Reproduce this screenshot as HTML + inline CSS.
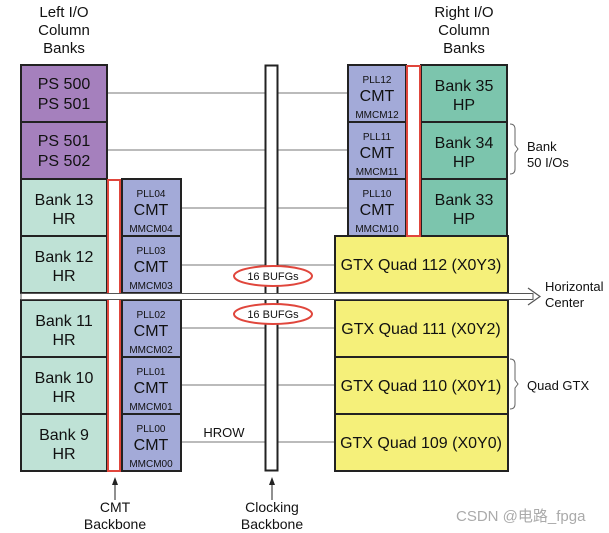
<!DOCTYPE html>
<html><head><meta charset="utf-8"><style>
html,body{margin:0;padding:0;background:#fff}
svg{display:block}
text{font-family:"Liberation Sans","Noto Sans CJK SC",sans-serif;fill:#111}
</style></head><body>
<svg width="609" height="533" viewBox="0 0 609 533" xmlns="http://www.w3.org/2000/svg">
<g font-size="15" text-anchor="middle">
<text x="64" y="17">Left I/O</text><text x="64" y="35">Column</text><text x="64" y="53">Banks</text>
<text x="464" y="17">Right I/O</text><text x="464" y="35">Column</text><text x="464" y="53">Banks</text>
</g>
<g stroke="#777" stroke-width="1">
<line x1="107" y1="93" x2="348" y2="93"/>
<line x1="107" y1="150" x2="348" y2="150"/>
<line x1="181" y1="208" x2="348" y2="208"/>
<line x1="181" y1="265" x2="335" y2="265"/>
<line x1="181" y1="328" x2="335" y2="328"/>
<line x1="181" y1="385" x2="335" y2="385"/>
<line x1="181" y1="442" x2="335" y2="442"/>
</g>
<rect x="265.5" y="65.5" width="12" height="405" fill="#fff" stroke="#222" stroke-width="2"/>
<g stroke="#222" stroke-width="2">
<rect x="21" y="65" width="86" height="57" fill="#a580bd"/>
<rect x="21" y="122" width="86" height="57" fill="#a580bd"/>
<rect x="21" y="179" width="86" height="57" fill="#bfe2d6"/>
<rect x="21" y="236" width="86" height="57" fill="#bfe2d6"/>
<rect x="21" y="300" width="86" height="57" fill="#bfe2d6"/>
<rect x="21" y="357" width="86" height="57" fill="#bfe2d6"/>
<rect x="21" y="414" width="86" height="57" fill="#bfe2d6"/>
<rect x="122" y="179" width="59" height="57" fill="#a3aad8"/>
<rect x="122" y="236" width="59" height="57" fill="#a3aad8"/>
<rect x="122" y="300" width="59" height="57" fill="#a3aad8"/>
<rect x="122" y="357" width="59" height="57" fill="#a3aad8"/>
<rect x="122" y="414" width="59" height="57" fill="#a3aad8"/>
<rect x="348" y="65" width="58" height="57" fill="#a3aad8"/>
<rect x="348" y="122" width="58" height="57" fill="#a3aad8"/>
<rect x="348" y="179" width="58" height="57" fill="#a3aad8"/>
<rect x="421" y="65" width="86" height="57" fill="#7cc5ad"/>
<rect x="421" y="122" width="86" height="57" fill="#7cc5ad"/>
<rect x="421" y="179" width="86" height="57" fill="#7cc5ad"/>
<rect x="335" y="236" width="173" height="57" fill="#f5f07a"/>
<rect x="335" y="300" width="173" height="57" fill="#f5f07a"/>
<rect x="335" y="357" width="173" height="57" fill="#f5f07a"/>
<rect x="335" y="414" width="173" height="57" fill="#f5f07a"/>
</g>
<rect x="108" y="180" width="12" height="291" fill="#fff" stroke="#e0463c" stroke-width="2"/>
<rect x="407" y="66" width="13" height="170" fill="#fff" stroke="#e0463c" stroke-width="2"/>
<rect x="21" y="293.5" width="512" height="6" fill="#fff" stroke="#555" stroke-width="1"/>
<polyline points="528,288 540,296.5 528,305" fill="none" stroke="#555" stroke-width="1.2"/>
<ellipse cx="273" cy="276" rx="39" ry="10" fill="#fff" stroke="#e0463c" stroke-width="2"/>
<ellipse cx="273" cy="314" rx="39" ry="10" fill="#fff" stroke="#e0463c" stroke-width="2"/>
<g font-size="11" text-anchor="middle"><text x="273" y="280">16 BUFGs</text><text x="273" y="318">16 BUFGs</text></g>
<g font-size="16" text-anchor="middle">
<text x="64" y="89">PS 500</text><text x="64" y="109">PS 501</text>
<text x="64" y="146">PS 501</text><text x="64" y="166">PS 502</text>
<text x="64" y="205">Bank 13</text><text x="64" y="224">HR</text>
<text x="64" y="262">Bank 12</text><text x="64" y="281">HR</text>
<text x="64" y="326">Bank 11</text><text x="64" y="345">HR</text>
<text x="64" y="383">Bank 10</text><text x="64" y="402">HR</text>
<text x="64" y="440">Bank 9</text><text x="64" y="459">HR</text>
<text x="464" y="91">Bank 35</text><text x="464" y="110">HP</text>
<text x="464" y="148">Bank 34</text><text x="464" y="167">HP</text>
<text x="464" y="205">Bank 33</text><text x="464" y="224">HP</text>
<text x="421" y="270">GTX Quad 112 (X0Y3)</text>
<text x="421" y="334">GTX Quad 111 (X0Y2)</text>
<text x="421" y="391">GTX Quad 110 (X0Y1)</text>
<text x="421" y="448">GTX Quad 109 (X0Y0)</text>
</g>
<g text-anchor="middle">
<text x="151" y="197" font-size="10">PLL04</text><text x="151" y="215" font-size="16">CMT</text><text x="151" y="232" font-size="10">MMCM04</text>
<text x="151" y="254" font-size="10">PLL03</text><text x="151" y="272" font-size="16">CMT</text><text x="151" y="289" font-size="10">MMCM03</text>
<text x="151" y="318" font-size="10">PLL02</text><text x="151" y="336" font-size="16">CMT</text><text x="151" y="353" font-size="10">MMCM02</text>
<text x="151" y="375" font-size="10">PLL01</text><text x="151" y="393" font-size="16">CMT</text><text x="151" y="410" font-size="10">MMCM01</text>
<text x="151" y="432" font-size="10">PLL00</text><text x="151" y="450" font-size="16">CMT</text><text x="151" y="467" font-size="10">MMCM00</text>
<text x="377" y="83" font-size="10">PLL12</text><text x="377" y="101" font-size="16">CMT</text><text x="377" y="118" font-size="10">MMCM12</text>
<text x="377" y="140" font-size="10">PLL11</text><text x="377" y="158" font-size="16">CMT</text><text x="377" y="175" font-size="10">MMCM11</text>
<text x="377" y="197" font-size="10">PLL10</text><text x="377" y="215" font-size="16">CMT</text><text x="377" y="232" font-size="10">MMCM10</text>
</g>
<text x="224" y="437" font-size="13" text-anchor="middle">HROW</text>
<g fill="none" stroke="#666" stroke-width="1">
<path d="M510,124 q5,0 5,5 v16 l3,4 l-3,4 v16 q0,5 -5,5"/>
<path d="M510,359 q5,0 5,5 v16 l3,4 l-3,4 v16 q0,5 -5,5"/>
</g>
<g font-size="13">
<text x="527" y="151">Bank</text><text x="527" y="167">50 I/Os</text>
<text x="527" y="390">Quad GTX</text>
<text x="545" y="291">Horizontal</text><text x="545" y="307">Center</text>
</g>
<g stroke="#222" stroke-width="1"><line x1="115" y1="482" x2="115" y2="500"/><line x1="272" y1="482" x2="272" y2="500"/></g>
<polygon points="115,477 112,485 118,485" fill="#222"/><polygon points="272,477 269,485 275,485" fill="#222"/>
<g font-size="14" text-anchor="middle">
<text x="115" y="512">CMT</text><text x="115" y="529">Backbone</text>
<text x="272" y="512">Clocking</text><text x="272" y="529">Backbone</text>
</g>
<text x="456" y="521" font-size="15" style="fill:#aaa">CSDN @电路_fpga</text>
</svg>
</body></html>
